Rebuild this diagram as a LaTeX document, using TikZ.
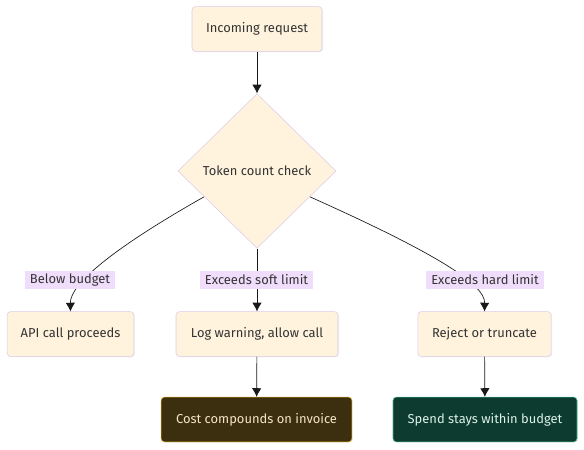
\documentclass[tikz,border=0pt]{standalone}
\usepackage{fontspec}
\setmainfont{Fira Sans}
\usetikzlibrary{shapes.geometric,shadows,arrows.meta}
\definecolor{boxfill}{HTML}{FFF3DD}
\definecolor{boxline}{HTML}{DCCBEA}
\definecolor{lblfill}{HTML}{F0DDFB}
\definecolor{txt}{HTML}{333333}
\definecolor{badfill}{HTML}{3B2F0F}
\definecolor{badline}{HTML}{D4A21A}
\definecolor{badtxt}{HTML}{F4E6C4}
\definecolor{goodfill}{HTML}{0D3B2F}
\definecolor{goodline}{HTML}{45B78D}
\definecolor{goodtxt}{HTML}{DDF1E8}
\begin{document}
\begin{tikzpicture}[x=0.75pt,y=-0.75pt,
  every node/.style={font=\fontsize{9.7}{11}\selectfont,text=txt},
  flow/.style={draw=boxline,fill=boxfill,rounded corners=2.5pt,minimum height=33.5pt,
    drop shadow={opacity=0.12,shadow xshift=0.8pt,shadow yshift=-0.8pt}},
  check/.style={diamond,draw=boxline,fill=boxfill,minimum width=118.5pt,minimum height=116pt,inner sep=0pt},
  lbl/.style={fill=lblfill,inner xsep=4pt,inner ysep=2pt,minimum height=14pt},
  bad/.style={flow,draw=badline,fill=badfill,text=badtxt},
  good/.style={flow,draw=goodline,fill=goodfill,text=goodtxt},
  edge/.style={draw=black!90,line width=0.5pt,-{Latex[length=6.5pt,width=7pt]}}]
\useasboundingbox (0,0) rectangle (584,449);
% nodes
\node[flow,minimum width=97.5pt] (req) at (257,29) {Incoming request};
\node[check] (chk) at (257,171) {Token count check};
\node[flow,minimum width=95pt] (api) at (70.5,334) {API call proceeds};
\node[flow,minimum width=121.5pt] (warn) at (257,334) {Log warning, allow call};
\node[flow,minimum width=100pt] (rej) at (484.5,334) {Reject or truncate};
\node[bad,minimum width=143pt] (cost) at (256.5,419.5) {Cost compounds on invoice};
\node[good,minimum width=138pt] (keep) at (485,419.5) {Spend stays within budget};
% connectors
\draw[edge] (req) -- (chk);
\draw[edge] (chk.206) .. controls (110,250) and (70,285) .. (api.north);
\draw[edge] (chk) -- (warn);
\draw[edge] (chk.334) .. controls (440,255) and (485,285) .. (rej.north);
\draw[edge] (warn) -- (cost);
\draw[edge] (rej) -- (keep);
% edge labels
\node[lbl] (lbelow) at (70,280) {Below budget};
\node[lbl] (lsoft) at (256.5,280) {Exceeds soft limit};
\node[lbl] (lhard) at (485,280) {Exceeds hard limit};
\end{tikzpicture}
\end{document}
